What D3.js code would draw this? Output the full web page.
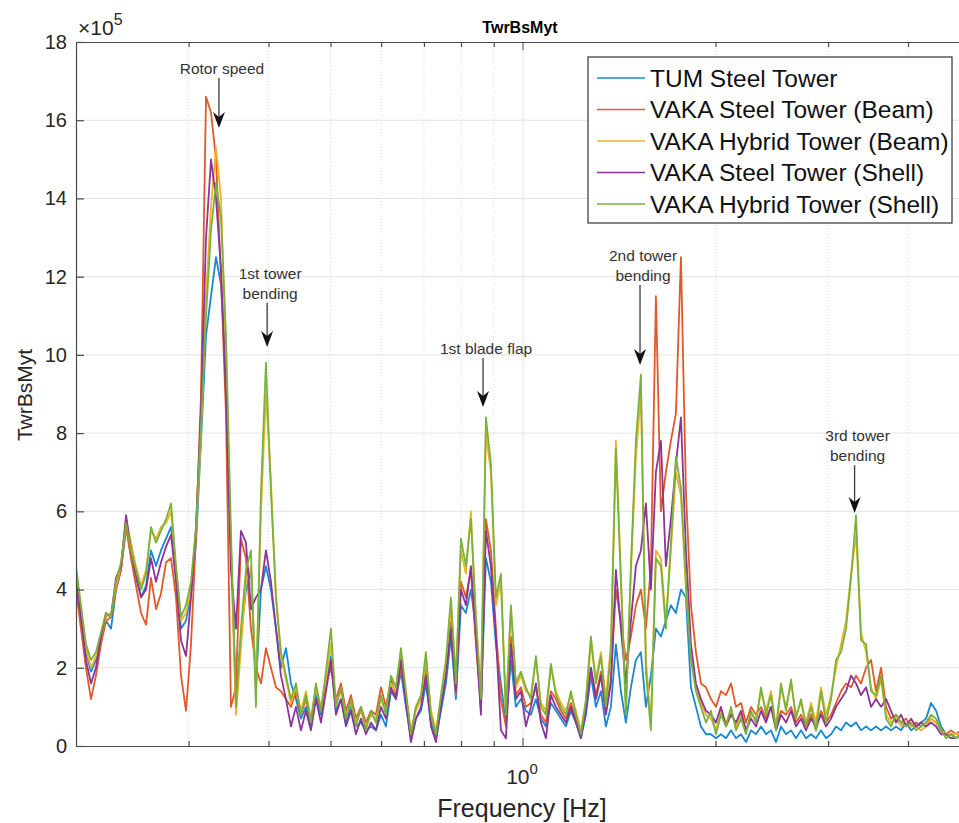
<!DOCTYPE html>
<html>
<head>
<meta charset="utf-8">
<script src="https://cdnjs.cloudflare.com/ajax/libs/d3/7.8.5/d3.min.js"></script>
<style>
  body { margin: 0; background: #fff; }
  text { font-family: "Liberation Sans", Arial, sans-serif; fill: #262626; }
</style>
</head>
<body>
<script>
// Frequency samples [Hz]
var freq = [0.2000,0.2036,0.2073,0.2111,0.2149,0.2188,0.2228,0.2269,0.2310,0.2352,
  0.2395,0.2438,0.2482,0.2528,0.2574,0.2620,0.2668,0.2716,0.2766,0.2816,
  0.2867,0.2919,0.2972,0.3026,0.3081,0.3137,0.3194,0.3252,0.3311,0.3371,
  0.3432,0.3494,0.3558,0.3622,0.3688,0.3755,0.3823,0.3893,0.3963,0.4035,
  0.4109,0.4183,0.4259,0.4337,0.4415,0.4496,0.4577,0.4660,0.4745,0.4831,
  0.4919,0.5008,0.5099,0.5192,0.5286,0.5382,0.5480,0.5579,0.5681,0.5784,
  0.5889,0.5996,0.6105,0.6216,0.6329,0.6444,0.6561,0.6680,0.6801,0.6925,
  0.7050,0.7179,0.7309,0.7442,0.7577,0.7714,0.7854,0.7997,0.8142,0.8290,
  0.8441,0.8594,0.8750,0.8909,0.9071,0.9236,0.9403,0.9574,0.9748,0.9925,
  1.0105,1.0289,1.0476,1.0666,1.0860,1.1057,1.1258,1.1462,1.1670,1.1882,
  1.2098,1.2318,1.2542,1.2770,1.3002,1.3238,1.3478,1.3723,1.3972,1.4226,
  1.4484,1.4747,1.5015,1.5288,1.5566,1.5849,1.6137,1.6430,1.6728,1.7032,
  1.7341,1.7659,1.7980,1.8307,1.8639,1.8978,1.9323,1.9674,2.0031,2.0395,
  2.077,2.115,2.153,2.192,2.232,2.273,2.314,2.356,2.399,2.442,
  2.487,2.532,2.578,2.625,2.672,2.721,2.770,2.821,2.872,2.924,
  2.977,3.032,3.087,3.143,3.200,3.258,3.317,3.377,3.439,3.501,
  3.565,3.630,3.696,3.763,3.831,3.901,3.972,4.044,4.117,4.192,
  4.268,4.346,4.425,4.505,4.587,4.670,4.755,4.841];

// TwrBsMyt values (x 1e5)
var tumSteel = [4.3,3.4,2.4,1.9,2.2,2.7,3.2,3.0,4.0,4.5,
  5.6,4.9,4.3,3.8,4.1,5.0,4.6,5.0,5.3,5.6,
  4.3,3.0,3.2,3.9,5.2,7.8,10.5,11.5,12.5,11.8,
  9.5,5.0,1.2,2.8,4.0,4.5,1.5,4.0,4.6,4.0,
  3.0,2.0,2.5,1.6,1.2,0.7,1.0,0.5,1.3,0.8,
  1.5,2.3,0.9,1.2,0.6,1.0,0.5,0.6,0.4,0.5,
  0.4,0.8,0.5,1.4,1.2,1.9,1.0,0.2,0.7,0.9,
  1.6,0.6,0.2,0.9,1.6,2.8,1.2,3.6,3.4,4.0,
  3.0,1.0,4.8,4.2,2.6,1.6,0.6,2.2,1.0,1.2,
  0.9,0.8,1.2,0.7,0.5,1.1,0.9,0.7,0.5,0.9,
  0.6,0.2,0.8,1.8,1.0,1.4,0.5,1.0,2.6,1.4,
  0.6,1.5,2.2,2.4,1.0,1.8,3.0,2.8,3.2,3.6,
  3.4,4.0,3.8,1.5,1.0,0.5,0.3,0.3,0.2,0.3,
  0.2,0.4,0.2,0.3,0.1,0.4,0.3,0.5,0.3,0.4,
  0.1,0.5,0.3,0.4,0.2,0.4,0.2,0.3,0.2,0.4,
  0.2,0.3,0.5,0.4,0.6,0.5,0.6,0.4,0.5,0.4,
  0.5,0.4,0.5,0.4,0.5,0.4,0.6,0.4,0.5,0.6,
  0.7,1.1,0.9,0.5,0.3,0.3,0.2,0.3];

var vakaSteelBeam = [4.0,3.0,2.0,1.2,1.8,2.6,3.2,3.3,4.0,4.5,
  5.6,4.8,4.1,3.4,3.1,4.3,3.5,3.9,4.7,4.8,
  3.8,1.8,0.9,2.6,5.4,9.0,16.6,16.2,15.0,12.0,
  8.5,1.0,1.5,5.3,4.8,3.0,2.0,1.6,2.5,2.0,
  1.5,1.4,1.2,1.0,1.4,0.8,1.2,0.6,1.5,0.9,
  1.6,2.0,1.2,1.6,0.9,1.3,0.7,1.0,0.6,0.9,
  0.8,1.5,1.0,1.7,1.3,2.0,1.3,0.3,1.0,1.2,
  2.0,0.8,0.3,1.1,1.9,3.2,1.3,4.2,3.8,4.5,
  2.6,1.0,5.8,5.0,3.0,1.2,0.5,2.8,1.3,1.5,
  1.0,1.1,1.5,0.8,0.6,1.4,1.2,0.9,0.7,1.1,
  0.7,0.3,1.0,2.0,1.3,1.9,0.9,1.7,4.0,3.2,
  2.2,2.8,3.6,4.0,3.0,4.6,11.5,6.0,7.0,7.8,
  8.5,12.5,6.5,3.6,2.4,1.6,1.5,1.2,1.0,1.4,
  1.3,1.6,1.0,1.1,0.6,1.0,0.8,1.0,0.7,1.0,
  0.5,0.9,0.8,1.0,0.6,0.8,0.5,0.8,0.4,0.9,
  0.6,0.8,1.1,1.4,1.6,1.5,1.8,1.6,2.0,2.2,
  1.4,2.0,1.0,0.7,0.8,0.6,0.7,0.5,0.6,0.5,
  0.6,0.7,0.6,0.4,0.3,0.4,0.3,0.4];

var vakaHybridBeam = [4.4,3.5,2.5,2.0,2.3,2.8,3.3,3.4,4.1,4.6,
  5.8,5.2,4.6,4.1,4.5,5.5,5.3,5.6,5.7,6.0,
  4.5,3.2,3.4,4.0,5.5,8.0,11.5,13.8,15.3,14.0,
  10.0,5.0,0.8,2.5,4.2,4.6,1.5,6.0,9.0,6.8,
  3.8,2.3,1.7,1.1,1.5,0.9,1.4,0.7,1.5,1.0,
  1.7,2.6,1.1,1.4,0.8,1.1,0.6,0.9,0.5,0.8,
  0.7,1.2,0.9,1.6,1.4,2.3,1.3,0.4,0.9,1.2,
  2.2,0.9,0.4,1.2,2.0,3.6,1.8,5.0,4.4,6.0,
  3.2,1.4,8.0,7.0,3.6,4.2,0.9,3.5,1.5,1.8,
  1.4,1.3,2.2,1.1,0.9,2.0,1.4,1.1,0.9,1.3,
  0.9,0.4,1.1,2.6,1.7,2.4,1.2,2.6,7.8,4.4,
  1.0,4.4,7.4,9.0,2.2,0.6,5.0,4.8,3.2,5.0,
  7.0,6.4,4.0,2.4,1.5,1.1,0.8,0.7,0.4,0.9,
  0.6,0.9,0.5,0.8,0.4,0.8,0.7,1.4,0.9,1.4,
  0.5,1.5,1.0,1.6,0.8,1.1,0.6,1.1,0.6,1.5,
  0.8,1.3,2.0,2.6,3.2,4.4,5.4,2.9,2.4,1.5,
  1.2,1.7,0.8,0.6,0.7,0.5,0.6,0.5,0.5,0.4,
  0.5,0.7,0.6,0.4,0.3,0.3,0.3,0.3];

var vakaSteelShell = [4.2,3.3,2.2,1.6,2.0,2.8,3.4,3.3,4.3,4.6,
  5.9,5.0,4.4,3.8,4.0,4.8,4.2,4.7,5.1,5.4,
  4.2,2.7,2.3,3.8,5.6,8.6,13.0,15.0,14.0,12.2,
  9.0,4.5,3.0,5.5,5.2,3.5,3.8,4.0,5.0,4.2,
  3.0,1.8,1.2,0.5,1.0,0.4,0.9,0.4,1.2,0.6,
  1.4,2.2,0.8,1.2,0.5,0.9,0.3,0.7,0.3,0.6,
  0.4,1.0,0.7,1.5,1.2,2.2,1.1,0.1,0.7,1.0,
  1.8,0.5,0.1,1.0,1.8,3.0,1.4,4.0,3.6,4.6,
  2.8,0.8,5.5,4.6,2.8,0.4,0.2,2.6,1.2,1.4,
  0.5,1.0,1.6,0.6,0.2,1.3,1.0,0.8,0.6,1.0,
  0.6,0.2,0.9,2.0,1.2,1.8,0.8,1.6,4.5,3.0,
  1.6,3.2,4.6,5.0,6.2,4.0,7.0,7.8,4.6,5.8,
  7.2,8.4,5.0,2.6,1.6,1.2,0.9,0.8,0.6,1.0,
  0.5,0.8,0.6,0.9,0.4,0.7,0.5,0.9,0.6,1.0,
  0.4,0.8,0.6,0.9,0.5,0.7,0.4,0.7,0.5,0.8,
  0.5,0.7,1.0,1.2,1.4,1.8,1.6,1.3,1.5,1.0,
  1.2,1.0,1.2,0.9,0.6,0.8,0.5,0.7,0.5,0.6,
  0.5,0.6,0.5,0.3,0.3,0.2,0.2,0.3];

var vakaHybridShell = [4.6,3.6,2.6,2.2,2.4,2.9,3.4,3.3,4.2,4.7,
  5.7,5.0,4.5,4.0,4.4,5.6,5.2,5.5,5.8,6.2,
  4.6,3.3,3.6,4.2,5.6,8.2,11.0,13.2,14.4,13.5,
  10.5,5.5,1.0,3.0,4.5,5.0,1.0,6.5,9.8,6.5,
  3.8,2.4,1.8,1.2,1.6,0.8,1.3,0.6,1.6,0.9,
  1.9,3.0,1.0,1.5,0.7,1.2,0.5,1.0,0.4,0.9,
  0.6,1.3,0.8,1.8,1.5,2.5,1.4,0.3,1.0,1.3,
  2.4,0.8,0.3,1.3,2.2,3.8,1.6,5.3,4.6,5.8,
  3.3,1.2,8.4,7.2,3.8,4.4,0.8,3.6,1.6,1.9,
  1.5,1.2,2.3,1.0,0.8,2.1,1.3,1.0,0.8,1.4,
  0.8,0.3,1.2,2.8,1.6,2.3,1.0,2.4,7.6,4.2,
  0.8,4.6,7.8,9.5,1.9,0.4,4.8,4.6,3.0,5.2,
  7.4,6.6,4.2,2.2,1.4,1.0,0.6,0.9,0.3,0.8,
  0.5,1.0,0.4,0.7,0.3,0.9,0.6,1.5,0.8,1.3,
  0.4,1.6,0.9,1.7,0.7,1.2,0.5,1.0,0.4,1.4,
  0.6,1.2,2.2,2.4,3.0,4.3,5.9,2.7,2.6,1.4,
  1.3,1.8,0.7,0.5,0.8,0.6,0.5,0.6,0.4,0.5,
  0.6,0.8,0.7,0.4,0.2,0.3,0.2,0.3];

var seriesNames = ["TUM Steel Tower", "VAKA Steel Tower (Beam)", "VAKA Hybrid Tower (Beam)",
  "VAKA Steel Tower (Shell)", "VAKA Hybrid Tower (Shell)"];
var seriesValues = [tumSteel, vakaSteelBeam, vakaHybridBeam, vakaSteelShell, vakaHybridShell];
var seriesColors = ["#1a87d0", "#e2582a", "#efb32a", "#8a3598", "#79b23a"];

var yTicks = [0, 2, 4, 6, 8, 10, 12, 14, 16, 18];
var xMinorTicks = [0.3, 0.4, 0.5, 0.6, 0.7, 0.8, 0.9, 2, 3, 4];

// annotations: label lines, frequency, arrow tip value, arrow tail value
var annoLabels = [["Rotor speed"], ["1st tower", "bending"], ["1st blade flap"], ["2nd tower", "bending"], ["3rd tower", "bending"]];
var annoFreq = [0.3346, 0.398, 0.866, 1.524, 3.30];
var annoTip = [15.8, 10.2, 8.67, 9.74, 5.96];
var annoTail = [17.08, 11.33, 9.92, 11.79, 7.18];

var width = 959, height = 823;
var plotLeft = 76, plotRight = 970, plotTop = 42, plotBottom = 746;

var x = d3.scaleLog().domain([0.2, 5]).range([plotLeft, plotRight]);
var y = d3.scaleLinear().domain([0, 18]).range([plotBottom, plotTop]);

var svg = d3.select("body").append("svg")
  .attr("width", width)
  .attr("height", height);

svg.append("defs").append("clipPath").attr("id", "plotclip")
  .append("rect")
  .attr("x", plotLeft).attr("y", plotTop)
  .attr("width", plotRight - plotLeft).attr("height", plotBottom - plotTop);

// grid
svg.append("g").selectAll("line")
  .data(yTicks.slice(1, -1))
  .enter().append("line")
  .attr("x1", plotLeft).attr("x2", plotRight)
  .attr("y1", function(d) { return y(d); })
  .attr("y2", function(d) { return y(d); })
  .style("stroke", "#e2e2e2")
  .style("stroke-width", 1);

svg.append("g").selectAll("line")
  .data(xMinorTicks)
  .enter().append("line")
  .attr("x1", function(d) { return x(d); })
  .attr("x2", function(d) { return x(d); })
  .attr("y1", plotTop).attr("y2", plotBottom)
  .style("stroke", "#dcdcdc")
  .style("stroke-width", 1)
  .style("stroke-dasharray", "1,2");

svg.append("line")
  .attr("x1", x(1)).attr("x2", x(1))
  .attr("y1", plotTop).attr("y2", plotBottom)
  .style("stroke", "#e2e2e2")
  .style("stroke-width", 1);

// series lines
var line = d3.line()
  .x(function(d, i) { return x(freq[i]); })
  .y(function(d) { return y(d); });

svg.append("g")
  .attr("clip-path", "url(#plotclip)")
  .selectAll("path")
  .data(seriesValues)
  .enter().append("path")
  .attr("d", line)
  .style("fill", "none")
  .style("stroke", function(d, i) { return seriesColors[i]; })
  .style("stroke-width", 1.8)
  .style("stroke-linejoin", "round");

// axes
var axisColor = "#4a4a4a";

var yAxis = svg.append("g")
  .attr("transform", "translate(" + plotLeft + ",0)")
  .call(d3.axisLeft(y).tickValues(yTicks).tickSize(-8).tickSizeOuter(0).tickPadding(9));
yAxis.selectAll("text").style("font-size", "20px").style("fill", "#262626");

var xAxis = svg.append("g")
  .attr("transform", "translate(0," + plotBottom + ")")
  .call(d3.axisBottom(x).tickValues(xMinorTicks).tickSize(-5).tickSizeOuter(0).tickFormat(""));
svg.append("line")
  .attr("x1", x(1)).attr("x2", x(1))
  .attr("y1", plotBottom).attr("y2", plotBottom - 8)
  .style("stroke", axisColor);

var xTop = svg.append("g")
  .attr("transform", "translate(0," + plotTop + ")")
  .call(d3.axisTop(x).tickValues(xMinorTicks).tickSize(-5).tickSizeOuter(0).tickFormat(""));
svg.append("line")
  .attr("x1", x(1)).attr("x2", x(1))
  .attr("y1", plotTop).attr("y2", plotTop + 8)
  .style("stroke", axisColor);

svg.selectAll(".domain, .tick line").style("stroke", axisColor).style("stroke-width", 1.2);

// x tick label 10^0
var xt = svg.append("text")
  .attr("x", x(1) - 1)
  .attr("y", 784)
  .attr("text-anchor", "middle")
  .style("font-size", "21px");
xt.append("tspan").text("10");
xt.append("tspan").attr("dy", -10).style("font-size", "15px").text("0");

// exponent label
var ex = svg.append("text")
  .attr("x", 78)
  .attr("y", 35)
  .style("font-size", "21px");
ex.append("tspan").text("\u00d710");
ex.append("tspan").attr("dy", -10).style("font-size", "16px").text("5");

// title and labels
svg.append("text")
  .attr("x", 520).attr("y", 33)
  .attr("text-anchor", "middle")
  .style("font-size", "16px")
  .style("font-weight", "bold")
  .style("fill", "#000")
  .text("TwrBsMyt");

svg.append("text")
  .attr("x", 522).attr("y", 817)
  .attr("text-anchor", "middle")
  .style("font-size", "25px")
  .text("Frequency [Hz]");

svg.append("text")
  .attr("transform", "translate(32,395) rotate(-90)")
  .attr("text-anchor", "middle")
  .style("font-size", "21px")
  .text("TwrBsMyt");

// annotations
annoLabels.forEach(function(lines, i) {
  var ax = x(annoFreq[i]);
  var tipY = y(annoTip[i]);
  var tailY = y(annoTail[i]);
  svg.append("line")
    .attr("x1", ax).attr("x2", ax)
    .attr("y1", tailY).attr("y2", tipY - 8)
    .style("stroke", "#3a3a3a")
    .style("stroke-width", 1.3);
  svg.append("path")
    .attr("d", "M0,0 L-6,-16 L0,-11 L6,-16 Z")
    .attr("transform", "translate(" + ax + "," + tipY + ")")
    .style("fill", "#111");
  lines.forEach(function(t, j) {
    svg.append("text")
      .attr("x", ax + 3)
      .attr("y", tailY - 4 - (lines.length - 1 - j) * 20)
      .attr("text-anchor", "middle")
      .style("font-size", "15.5px")
      .style("fill", "#333")
      .text(t);
  });
});

// legend
var legendBox = svg.append("g");
legendBox.append("rect")
  .attr("x", 588).attr("y", 57)
  .attr("width", 364).attr("height", 166)
  .style("fill", "#fff")
  .style("stroke", "#333")
  .style("stroke-width", 1.2);

var legend = legendBox.selectAll("g.entry")
  .data(seriesNames)
  .enter().append("g")
  .attr("class", "entry")
  .attr("transform", function(d, i) { return "translate(0," + (78 + i * 31.5) + ")"; });
legend.append("line")
  .attr("x1", 597).attr("x2", 645)
  .style("stroke", function(d, i) { return seriesColors[i]; })
  .style("stroke-width", 1.5);
legend.append("text")
  .attr("x", 650)
  .attr("dy", ".35em")
  .style("font-size", "24.5px")
  .style("fill", "#111")
  .text(function(d) { return d; });
</script>
</body>
</html>
